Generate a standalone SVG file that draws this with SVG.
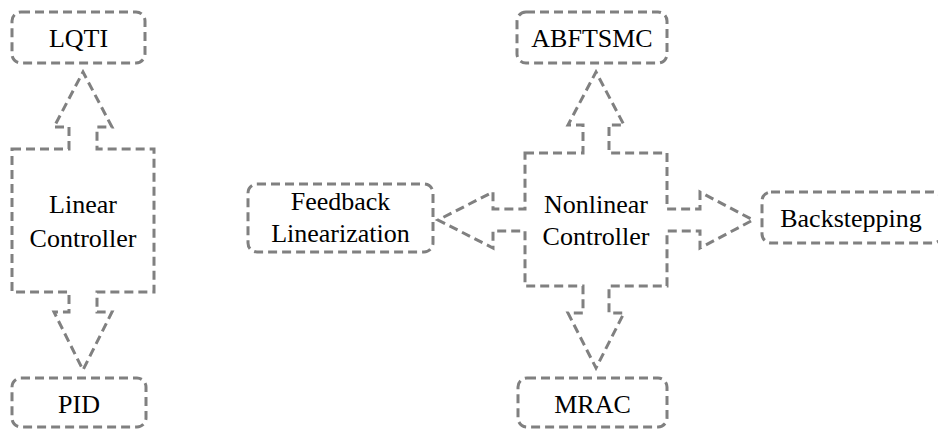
<svg xmlns="http://www.w3.org/2000/svg" width="938" height="431" viewBox="0 0 938 431">
  <style>
    .edge { fill: none; stroke: #808080; stroke-width: 3; stroke-dasharray: 9 5; stroke-linejoin: miter; }
    .box { fill: #ffffff; stroke: #808080; stroke-width: 3; stroke-dasharray: 9 5; }
    text { font-family: "Times New Roman", "Liberation Serif", Tinos, "DejaVu Serif", serif; font-size: 26px; fill: #000000; text-anchor: middle; }
  </style>
  <rect width="938" height="431" fill="#ffffff"/>

  <!-- block arrows, merged with the controller outlines -->
  <g id="connectors">
    <path class="edge" d="M12,149 H69 V127 H54 L83,72 L112,127 H97 V149 H154 V292 H97 V312 H112 L83,370 L54,312 H69 V292 H12 Z"/>
    <path class="edge" d="M525,153 H583 V125 H568 L596,72 L624,125 H609 V153 H667 V209 H700 V192 L753,220 L700,248 V231 H667 V286 H609 V313 H624 L596,368 L568,313 H583 V286 H525 V231 H493 V248 L438,220 L493,192 V209 H525 Z"/>
  </g>

  <g id="linear-controller">
    <text x="83" y="213">Linear</text>
    <text x="83" y="247">Controller</text>
  </g>
  <g id="nonlinear-controller">
    <text x="596" y="213">Nonlinear</text>
    <text x="596" y="245">Controller</text>
  </g>

  <g id="lqti">
    <rect class="box" x="12" y="12" width="133" height="51" rx="9"/>
    <text x="78.5" y="47">LQTI</text>
  </g>
  <g id="pid">
    <rect class="box" x="12" y="378" width="134" height="49" rx="9"/>
    <text x="79" y="413">PID</text>
  </g>
  <g id="abftsmc">
    <rect class="box" x="517" y="12" width="150" height="51" rx="9"/>
    <text x="592" y="47">ABFTSMC</text>
  </g>
  <g id="mrac">
    <rect class="box" x="518" y="378" width="149" height="49" rx="9"/>
    <text x="592.5" y="413">MRAC</text>
  </g>
  <g id="feedback-linearization">
    <rect class="box" x="248" y="184" width="185" height="68" rx="9"/>
    <text x="340.5" y="210">Feedback</text>
    <text x="340.5" y="242">Linearization</text>
  </g>
  <g id="backstepping">
    <rect class="box" x="762" y="192" width="180" height="51" rx="9"/>
    <text x="851" y="227">Backstepping</text>
  </g>
</svg>
